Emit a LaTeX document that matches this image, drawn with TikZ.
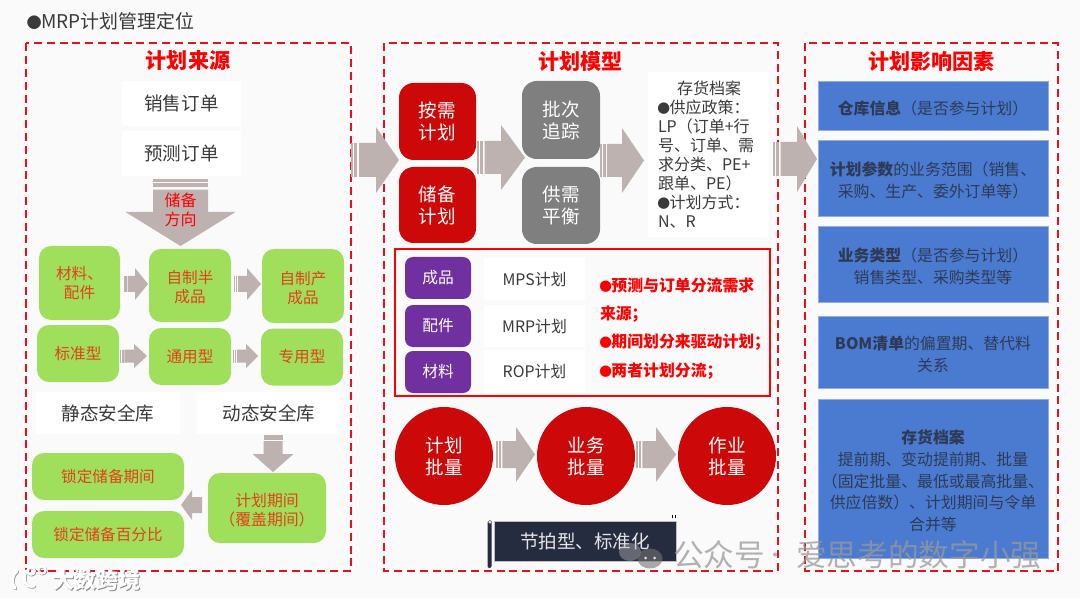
\documentclass[tikz,border=0pt]{standalone}
\usepackage{graphicx}
\usepackage{fontspec}
\setmainfont{Noto Sans CJK SC}
\usetikzlibrary{shapes.geometric}
\definecolor{bgc}{HTML}{FAFAFB}
\definecolor{dashred}{HTML}{E8101C}
\definecolor{greenc}{HTML}{A0DF5C}
\definecolor{greentxt}{HTML}{E2401A}
\definecolor{redc}{HTML}{CC0808}
\definecolor{grayc}{HTML}{7F7F7F}
\definecolor{purplec}{HTML}{7030A0}
\definecolor{bluec}{HTML}{4A7BD0}
\definecolor{blueline}{HTML}{8FAEE6}
\definecolor{bluetxt}{HTML}{2E3A55}
\definecolor{arrowc}{HTML}{BEB2B0}
\definecolor{darkc}{HTML}{262C40}
\definecolor{txtc}{HTML}{3A3A3A}
\newcommand\fs[2]{\fontsize{#1}{#2}\selectfont}
\newcommand\bul{\makebox[.72em][c]{\scalebox{.8}{●}}}
\newcommand\fl[1]{\rule{0pt}{#1pt}}
\tikzset{
  base/.style={inner sep=0pt,outer sep=0pt,align=center},
  frame/.style={draw=dashred,line width=1.5pt,dash pattern=on 6pt off 3.6pt},
  titletxt/.style={base,text=red,font=\fs{15.8}{19}\bfseries},
  whitebox/.style={base,fill=white,text=txtc,font=\fs{13.9}{17}},
  smallwhite/.style={base,fill=white,text=txtc,font=\fs{11.9}{14}},
  greenbox/.style={base,fill=greenc,rounded corners=9pt,text=greentxt,font=\fs{11.7}{14.4}},
  redbox/.style={base,fill=redc,rounded corners=11pt,text=white,font=\fs{13.9}{16.5}},
  graybox/.style={base,fill=grayc,rounded corners=11pt,text=white,font=\fs{13.9}{16.5}},
  purplebox/.style={base,fill=purplec,rounded corners=6pt,text=white,font=\fs{11.8}{14}},
  bluebox/.style={base,fill=bluec,draw=blueline,line width=.5pt,text=bluetxt,font=\fs{11.9}{16.3}},
  redcircle/.style={base,circle,fill=redc,text=white,font=\fs{13.9}{16.5}},
  arrowfill/.style={fill=arrowc},
  redtxt/.style={base,anchor=west,text=red,font=\fs{11.9}{14}\bfseries},
  wm/.style={base,anchor=west,text=black!40,opacity=.75,font=\fs{23}{26}},
  logotxt/.style={base,anchor=west,font=\fs{16.5}{19}\bfseries}
}
\newcommand\bx[7]{\node[#6,minimum width={(#4-#2)*0.75pt},minimum height={(#5-#3)*0.75pt}] (#1) at ({(#2+#4)/2},{(#3+#5)/2}) {#7};}
% striped block arrow: x y rotation baselength tiplength shaft-half head-half
\newcommand\barrow[7]{\begin{scope}[shift={(#1,#2)},rotate=#3]
  \fill[arrowfill] ({0.32*#4},-#6) -- (#4,-#6) -- (#4,-#7) -- ({#4+#5},0) -- (#4,#7) -- (#4,#6) -- ({0.32*#4},#6) -- cycle;
  \fill[arrowfill] (0,-#6) rectangle ({0.08*#4},#6);
  \fill[arrowfill] ({0.13*#4},-#6) rectangle ({0.25*#4},#6);
\end{scope}}
% plain block arrow
\newcommand\parrow[7]{\begin{scope}[shift={(#1,#2)},rotate=#3]
  \fill[arrowfill] (0,-#6) -- (#4,-#6) -- (#4,-#7) -- ({#4+#5},0) -- (#4,#7) -- (#4,#6) -- (0,#6) -- cycle;
\end{scope}}
\newcommand\logostroke[2]{%
  \draw[#1,line width=#2,line cap=round] (17,571) .. controls (11,576) and (11,583) .. (15,588);
  \draw[#1,line width=#2,line cap=round] (26,571) .. controls (22,580) and (25,588) .. (34,586);
  \draw[#1,line width=.7*#2] (31,571) circle (3.6);
  \draw[#1,line width=.7*#2] (42,570) circle (3.6);
}
\begin{document}
\begin{tikzpicture}[x=0.75pt,y=-0.75pt]
\useasboundingbox (0,0) rectangle (1080,598);
\fill[bgc] (0,0) rectangle (1080,598);
\node[base,anchor=west,text=txtc,font=\fs{14.2}{17}] (head) at (27.5,21) {\bul MRP计划管理定位};
% frames
\draw[frame] (25.5,43.5) rectangle (351,571);
\draw[frame] (384,43.5) rectangle (778,571);
\draw[frame] (805,43.5) rectangle (1058,571);
\node[titletxt] (t1) at (188,61) {计划来源};
\node[titletxt] (t2) at (580.5,61.5) {计划模型};
\node[titletxt] (t3) at (931.5,61.5) {计划影响因素};
% left column
\bx{so}{122}{81}{241}{126}{whitebox}{销售订单}
\bx{fo}{122}{131}{241}{176}{whitebox}{预测订单}
\barrow{180.5}{179}{-90}{33}{34}{27.5}{55}
\node[base,text=red,font=\fs{12}{14.2}] (dir) at (180.5,210) {储备\\方向};
\bx{g1}{39}{246}{120}{320}{greenbox}{材料、\\配件}
\bx{g2}{149}{249}{231}{322}{greenbox}{\fl{12.5}自制半\\成品}
\bx{g3}{262}{249}{344}{323}{greenbox}{\fl{12.5}自制产\\成品}
\barrow{124}{284}{0}{11}{13}{8}{16}
\barrow{234}{284}{0}{13}{14}{8}{16}
\bx{g4}{37}{325}{119}{382}{greenbox}{\raisebox{1.5pt}{标准型}}
\bx{g5}{149}{328}{231}{385}{greenbox}{通用型}
\bx{g6}{261}{328.5}{343}{385.5}{greenbox}{专用型}
\barrow{120}{356}{0}{14}{13}{6.5}{12}
\barrow{233}{356}{0}{13}{12}{6.5}{12}
\bx{st}{36}{392}{180}{434}{whitebox}{静态安全库}
\bx{dy}{197}{392}{341}{434}{whitebox}{动态安全库}
\barrow{273}{435}{-90}{19}{18}{9.5}{20.5}
\bx{l1}{32}{453}{184}{500}{greenbox}{锁定储备期间}
\bx{l2}{32}{511}{184}{558}{greenbox}{锁定储备百分比}
\bx{pp}{208}{473}{326}{543}{greenbox,font=\fs{11.9}{14.4}}{\fl{13}计划期间\\（覆盖期间）}
\parrow{202}{505}{180}{10}{11}{8}{15}
% middle column
\barrow{351}{160}{0}{25}{23}{17}{33}
\bx{r1}{399}{83}{476}{160}{redbox}{按需\\计划}
\bx{r2}{399}{167}{476}{243}{redbox}{储备\\计划}
\barrow{477}{157.5}{0}{24}{24}{16.5}{32.5}
\bx{h1}{522}{81}{600}{159}{graybox}{批次\\追踪}
\bx{h2}{522}{167}{600}{244}{graybox}{供需\\平衡}
\barrow{600}{160.5}{0}{22}{22}{16.5}{32.5}
\bx{inv}{648}{72}{769}{237}{base,fill=white}{}
\node[base,align=left,anchor=north west,text=txtc,font=\fs{12}{14.3},text width=90pt] (invt) at (658,80.5) {\hspace*{1.2em}存货档案\\\bul 供应政策：\\LP（订单+行\\号、订单、需\\求分类、PE+\\跟单、PE）\\\bul 计划方式：\\N、R};
\barrow{773}{159}{0}{24}{20}{17}{33}
\node[base,draw=red,line width=1.1pt,minimum width={375*0.75pt},minimum height={147*0.75pt}] (rbox) at (582.5,322.5) {};
\bx{p1}{405}{257}{471}{299}{purplebox}{成品}
\bx{p2}{405}{305}{471}{347}{purplebox}{配件}
\bx{p3}{405}{351}{471}{393}{purplebox}{材料}
\bx{w1}{484}{258}{585}{300}{smallwhite}{MPS计划}
\bx{w2}{484}{305}{585}{347}{smallwhite}{MRP计划}
\bx{w3}{484}{350}{585}{393}{smallwhite}{ROP计划}
\node[redtxt] (q1) at (600,285) {\bul 预测与订单分流需求};
\node[redtxt] (q2) at (600,314) {来源；};
\node[redtxt] (q3) at (600,342) {\bul 期间划分来驱动计划；};
\node[redtxt] (q4) at (600,371) {\bul 两者计划分流；};
\node[redcircle,minimum size={98*0.75pt}] (c1) at (444,456) {计划\\批量};
\node[redcircle,minimum size={98*0.75pt}] (c2) at (586,456) {业务\\批量};
\node[redcircle,minimum size={98*0.75pt}] (c3) at (727,456) {作业\\批量};
\barrow{496}{454.5}{0}{20}{19}{13.5}{27.5}
\barrow{636}{454.5}{0}{20}{20}{13.5}{27.5}
\bx{db}{494}{521}{676}{561}{base,fill=darkc,draw=black!25,line width=.4pt,text=white!90!black,font=\fs{13.9}{17}}{节拍型、标准化}
\fill[darkc,rounded corners=1.5pt] (487.5,521) rectangle (491.5,568);
\draw[black!60,line width=.4pt,fill=white] (490,522) circle (1.8);
\draw[black,line width=.6pt] (672,515) -- (672,518) (675,515) -- (675,518);
% right column
\bx{b1}{818}{81}{1048}{130}{bluebox}{\fl{14}{\bfseries 仓库信息}（是否参与计划）}
\bx{b2}{818}{140}{1048}{216}{bluebox}{\fl{14}{\bfseries 计划参数}的业务范围（销售、\\采购、生产、委外订单等）}
\bx{b3}{818}{226}{1048}{302}{bluebox}{\fl{14}{\bfseries 业务类型}（是否参与计划）\\销售类型、采购类型等}
\bx{b4}{818}{316}{1048}{388}{bluebox}{\fl{14}{\bfseries BOM清单}的偏置期、替代料\\关系}
\bx{b5}{818}{399}{1048}{558}{bluebox}{\fl{14}{\bfseries 存货档案}\\提前期、变动提前期、批量\\（固定批量、最低或最高批量、\\供应倍数）、计划期间与令单\\合并等}
% watermarks
\fill[black!30,opacity=.45] (630,552) ellipse (11 and 9);
\fill[black!55,opacity=.6] (650,558.5) ellipse (12.5 and 10);
\fill[white,opacity=.8] (645.5,558) circle (1.5) (654.5,558) circle (1.5);
\node[wm] (wm1) at (673,554.5) {公众号};
\fill[black!40,opacity=.75] (775,554.5) circle (2);
\node[wm] (wm3) at (796,554.5) {爱思考的数字小强};
\node[logotxt,text=black!45] (wm2s) at (53,581) {大数跨境};
\node[logotxt,text=white] (wm2) at (52,580) {大数跨境};
\begin{scope}[shift={(.8,.8)}]\logostroke{black!40}{2.4pt}\end{scope}
\logostroke{white}{2.4pt}
\end{tikzpicture}
\end{document}
